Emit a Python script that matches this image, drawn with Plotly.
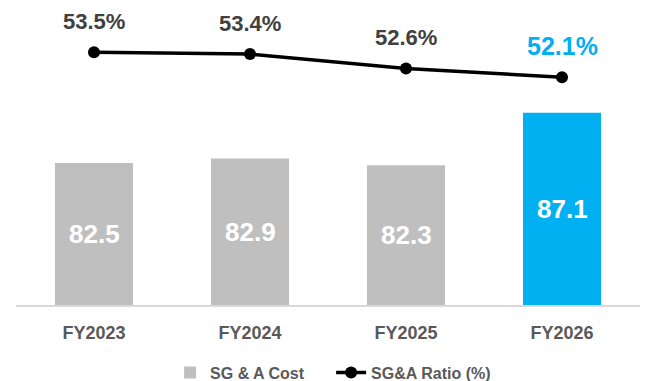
import plotly.graph_objects as go

categories = ["FY2023", "FY2024", "FY2025", "FY2026"]
sga_cost = [82.5, 82.9, 82.3, 87.1]
sga_ratio = [53.5, 53.4, 52.6, 52.1]
ratio_labels = ["53.5%", "53.4%", "52.6%", "52.1%"]
bar_colors = ["#BFBFBF", "#BFBFBF", "#BFBFBF", "#00B0F0"]
label_colors = ["#404040", "#404040", "#404040", "#00B0F0"]
label_sizes = [22, 22, 22, 25]

FONT = "Liberation Sans, Arial, sans-serif"
Y1_RANGE = [69.5, 96.5]
Y2_RANGE = [39.35, 55.87]

fig = go.Figure()
fig.add_trace(go.Bar(
    x=categories, y=sga_cost, name="SG & A Cost",
    marker=dict(color=bar_colors, line=dict(width=0)),
    width=0.5,
    hoverinfo="skip",
))
fig.add_trace(go.Scatter(
    x=categories, y=sga_ratio, name="SG&A Ratio (%)", yaxis="y2",
    mode="lines+markers",
    line=dict(color="black", width=3.5),
    marker=dict(color="black", size=12),
    hoverinfo="skip",
))

# value labels centred in the visible part of each bar
for c, v in zip(categories, sga_cost):
    fig.add_annotation(
        x=c, y=(v + Y1_RANGE[0]) / 2, xref="x", yref="y", text=f"{v:.1f}",
        showarrow=False, yanchor="middle",
        font=dict(family=FONT, size=26, color="white", weight="bold"),
    )

for c, v, t, col, sz in zip(categories, sga_ratio, ratio_labels, label_colors, label_sizes):
    fig.add_annotation(
        x=c, y=v, xref="x", yref="y2", text=t, showarrow=False,
        yshift=31, yanchor="middle",
        font=dict(family=FONT, size=sz, color=col, weight="bold"),
    )

fig.update_layout(
    width=646, height=381,
    margin=dict(l=16, r=6, t=10, b=76, autoexpand=False),
    paper_bgcolor="white", plot_bgcolor="white",
    showlegend=True,
    legend=dict(
        orientation="h", x=0.505, xanchor="center",
        yref="container", y=0.022, yanchor="middle",
        font=dict(family=FONT, size=16, color="#595959", weight="bold"),
        entrywidth=116, entrywidthmode="pixels",
        tracegroupgap=0, bgcolor="rgba(0,0,0,0)",
    ),
    xaxis=dict(
        showgrid=False, showline=True, linecolor="#D9D9D9", linewidth=2,
        ticks="outside", ticklen=10, tickcolor="rgba(0,0,0,0)",
        tickfont=dict(family=FONT, size=18, color="#595959", weight="bold"),
    ),
    yaxis=dict(range=Y1_RANGE, visible=False, showgrid=False, zeroline=False),
    yaxis2=dict(range=Y2_RANGE, overlaying="y", side="right",
                visible=False, showgrid=False, zeroline=False),
)

fig.write_html("out.html")
